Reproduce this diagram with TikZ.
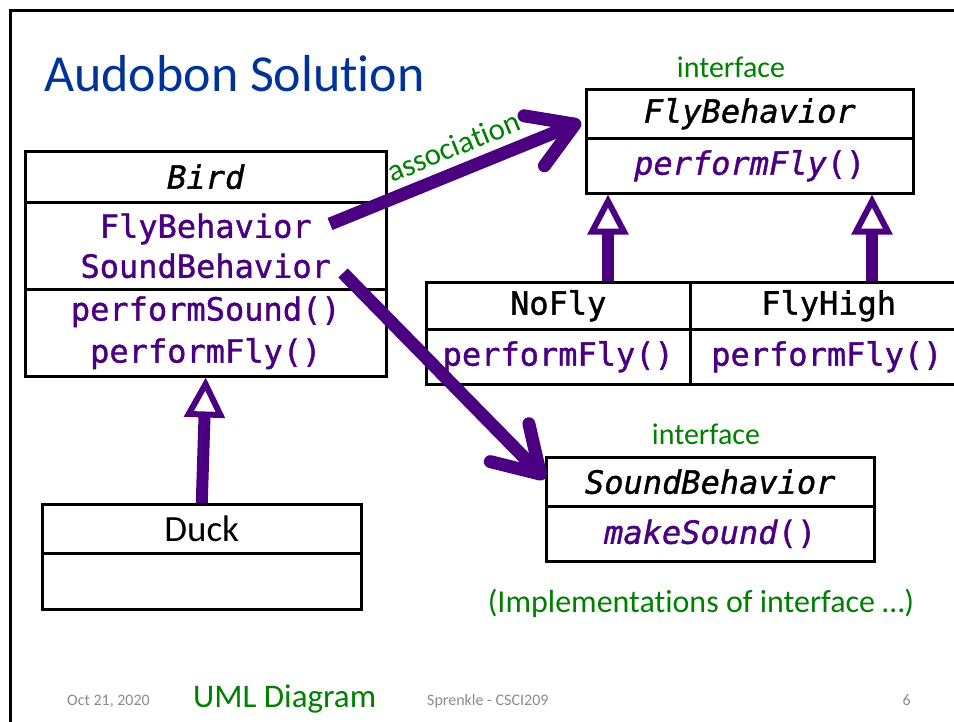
\documentclass[tikz,border=0pt]{standalone}
\usepackage{fontspec}
\setmainfont[Ligatures=NoCommon,RawFeature={-liga;-clig;-calt;-dlig}]{Carlito}
\newfontfamily\monofam[FakeBold=1.2]{DejaVu Sans Mono}
\usetikzlibrary{arrows.meta,calc}
\definecolor{umlpurple}{RGB}{75,0,130}
\definecolor{umlgreen}{RGB}{0,128,0}
\definecolor{titleblue}{RGB}{0,51,153}
\definecolor{footgray}{RGB}{140,140,140}
\begin{document}
\begin{tikzpicture}[x=1pt,y=-1pt,
  comp/.style={draw=black, line width=2.5pt, inner sep=0pt, anchor=north west, align=center},
  mono/.style={font=\monofam\fontsize{32}{40}\selectfont},
  monobig/.style={font=\monofam\fontsize{32}{42}\selectfont},
  gen/.style={draw=umlpurple, line width=12pt, -{Triangle[length=40pt,width=40pt,line width=6pt,fill=white]}},
  assoc/.style={draw=umlpurple, line width=13pt, -{Straight Barb[length=44pt,width=54pt,round]}},
  greentxt/.style={text=umlgreen, font=\fontsize{30}{36}\selectfont, inner sep=0pt},
  foot/.style={text=footgray, font=\fontsize{16}{18}\selectfont, inner sep=0pt, anchor=base west}
]
\useasboundingbox (0,0) rectangle (954,721);
\fill[white] (-20,-20) rectangle (980,740);
% slide frame
\draw[line width=3pt] (10,730) -- (10,10) -- (980,10);
% title
\node[anchor=base west, inner sep=0pt, text=titleblue, font=\fontsize{52}{60}\selectfont] (title) at (44,91) {Audobon Solution};

% Bird
\node[comp, mono, minimum width=361pt, minimum height=51pt] (birdN) at (24,150) {\itshape Bird};
\node[comp, mono, text=umlpurple, minimum width=361pt, minimum height=87pt] (birdA) at (24,201) {FlyBehavior\\SoundBehavior};
\node[comp, monobig, text=umlpurple, minimum width=361pt, minimum height=87pt] (birdM) at (24,288) {performSound()\\performFly()};

% Duck
\node[comp, font=\fontsize{37}{44}\selectfont, minimum width=319pt, minimum height=49pt] (duckN) at (41,503) {Duck};
\node[comp, minimum width=319pt, minimum height=56pt] (duckM) at (41,552) {};

% FlyBehavior
\node[greentxt, anchor=base] (flyLbl) at (731,77) {interface};
\node[comp, mono, minimum width=327pt, minimum height=49pt] (flyN) at (585,88) {\itshape FlyBehavior};
\node[comp, mono, text=umlpurple, minimum width=327pt, minimum height=55pt] (flyM) at (585,137) {\textit{performFly}()};

% NoFly / FlyHigh
\node[comp, mono, minimum width=264pt, minimum height=47pt] (noflyN) at (425,281) {NoFly};
\node[comp, mono, text=umlpurple, minimum width=264pt, minimum height=55pt] (noflyM) at (425,328) {performFly()};
\node[comp, mono, minimum width=285pt, minimum height=47pt, text width=285pt, align=left] (flyhighN) at (689,281) {\hspace*{71pt}FlyHigh};
\node[comp, mono, text=umlpurple, minimum width=285pt, minimum height=55pt, text width=285pt, align=left] (flyhighM) at (689,328) {\hspace*{21pt}performFly()};

% SoundBehavior
\node[greentxt, anchor=base] (soundLbl) at (706,444) {interface};
\node[comp, mono, minimum width=328pt, minimum height=49pt] (soundN) at (545,456) {\itshape SoundBehavior};
\node[comp, mono, text=umlpurple, minimum width=328pt, minimum height=55pt] (soundM) at (545,505) {\textit{makeSound}()};
\node[greentxt, anchor=base, font=\fontsize{32}{38}\selectfont] (implLbl) at (701,612) {(Implementations of interface \ldots)};

% generalizations
\coordinate (gx1) at (608,0);
\coordinate (gx2) at (872,0);
\draw[gen] (duckN.north) -- (birdM.south);
\draw[gen] (noflyN.north -| gx1) -- (flyM.south -| gx1);
\draw[gen] (flyhighN.north -| gx2) -- (flyM.south -| gx2);

% associations
\coordinate (assocStart) at (330,224);
\coordinate (soundStart) at (343,273);
\draw[assoc] (assocStart) -- ($(flyN.west)+(-4,8)$)
  node[pos=0.53, sloped, above=8pt, greentxt, font=\fontsize{31}{36}\selectfont] (assocLbl) {association};
\draw[assoc] (soundStart) -- ($(soundN.west)+(0,-3)$);

% footer
\node[foot] (date) at (67,705) {Oct 21, 2020};
\node[inner sep=0pt, anchor=base west, text=umlgreen, font=\fontsize{33}{38}\selectfont] (uml) at (193,707) {UML Diagram};
\node[foot] (author) at (427,705) {Sprenkle - CSCI209};
\node[foot, anchor=base east] (page) at (911,705) {6};
\end{tikzpicture}
\end{document}
